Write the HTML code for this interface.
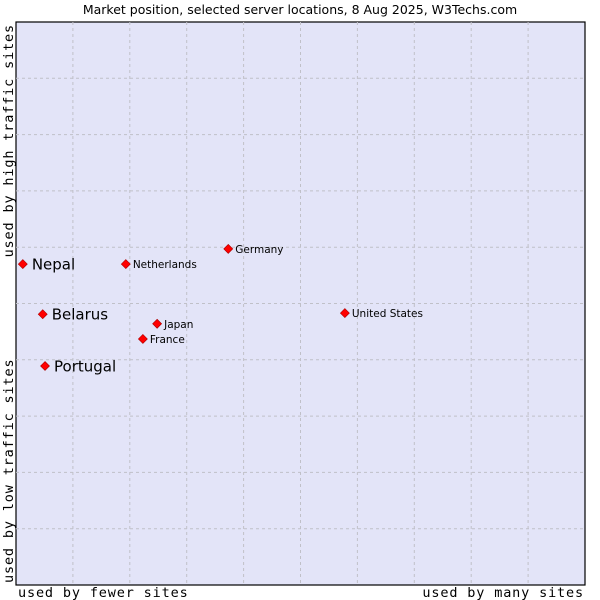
<!DOCTYPE html>
<html><head><meta charset="utf-8"><style>
body{margin:0;background:#fff;font-family:"DejaVu Sans","Liberation Sans",sans-serif}
svg{display:block}
.ax{font-size:13.5px;letter-spacing:0.85px;font-family:"DejaVu Sans Mono",monospace}
</style></head><body>
<svg id="chart" width="600" height="600">
<text x="300" y="14" text-anchor="middle" font-size="12.5" fill="#000" font-family="DejaVu Sans, sans-serif">Market position, selected server locations, 8 Aug 2025, W3Techs.com</text>
<rect x="16" y="22" width="569" height="563" fill="#e3e4f8" stroke="#000" stroke-width="1.2"/>
<g id="grid"></g>
<g id="points"></g>
<text class="ax" x="18" y="597">used by fewer sites</text>
<text class="ax" x="584" y="597" text-anchor="end">used by many sites</text>
<text class="ax" transform="translate(13,24) rotate(-90)" text-anchor="end">used by high traffic sites</text>
<text class="ax" transform="translate(13,583) rotate(-90)">used by low traffic sites</text>
</svg>
<script>
const names=["Nepal","Belarus","Portugal","Netherlands","Germany","Japan","France","United States"];
const xValues=[1.2,4.7,5.1,19.3,37.3,24.8,22.3,57.8];
const yValues=[57.0,48.1,38.9,57.0,59.7,46.4,43.7,48.3];
const bigLabel=[true,true,true,false,false,false,false,false];
const L=16,R=585,T=22,B=585;
const sx=v=>L+v/100*(R-L), sy=v=>B-v/100*(B-T);
const ns="http://www.w3.org/2000/svg";
const g=document.getElementById('grid');
for(let i=1;i<10;i++){
  const a=document.createElementNS(ns,'line');
  
  
  a.setAttribute('x1',sx(i*10));a.setAttribute('x2',sx(i*10));a.setAttribute('y1',T);a.setAttribute('y2',B);
  a.setAttribute('stroke','#c0c0c8');a.setAttribute('stroke-dasharray','3,3');g.appendChild(a);
  const b=document.createElementNS(ns,'line');
  
  
  b.setAttribute('y1',sy(i*10));b.setAttribute('y2',sy(i*10));b.setAttribute('x1',L);b.setAttribute('x2',R);
  b.setAttribute('stroke','#c0c0c8');b.setAttribute('stroke-dasharray','3,3');g.appendChild(b);
}
const p=document.getElementById('points');
names.forEach((n,i)=>{
  const x=sx(xValues[i]),y=sy(yValues[i]);
  const d=document.createElementNS(ns,'path');
  
  
  d.setAttribute('d',`M${x} ${y-4.5}L${x+4.5} ${y}L${x} ${y+4.5}L${x-4.5} ${y}Z`);
  d.setAttribute('fill','#f00');d.setAttribute('stroke','#a00');d.setAttribute('stroke-width','0.6');
  p.appendChild(d);
  const t=document.createElementNS(ns,'text');
  
  
  t.setAttribute('x',x+(bigLabel[i]?9:7));t.setAttribute('y',y+(bigLabel[i]?5.5:4));
  t.setAttribute('font-size',bigLabel[i]?'15':'10.5');
  t.textContent=n;p.appendChild(t);
});
</script>
</body></html>
